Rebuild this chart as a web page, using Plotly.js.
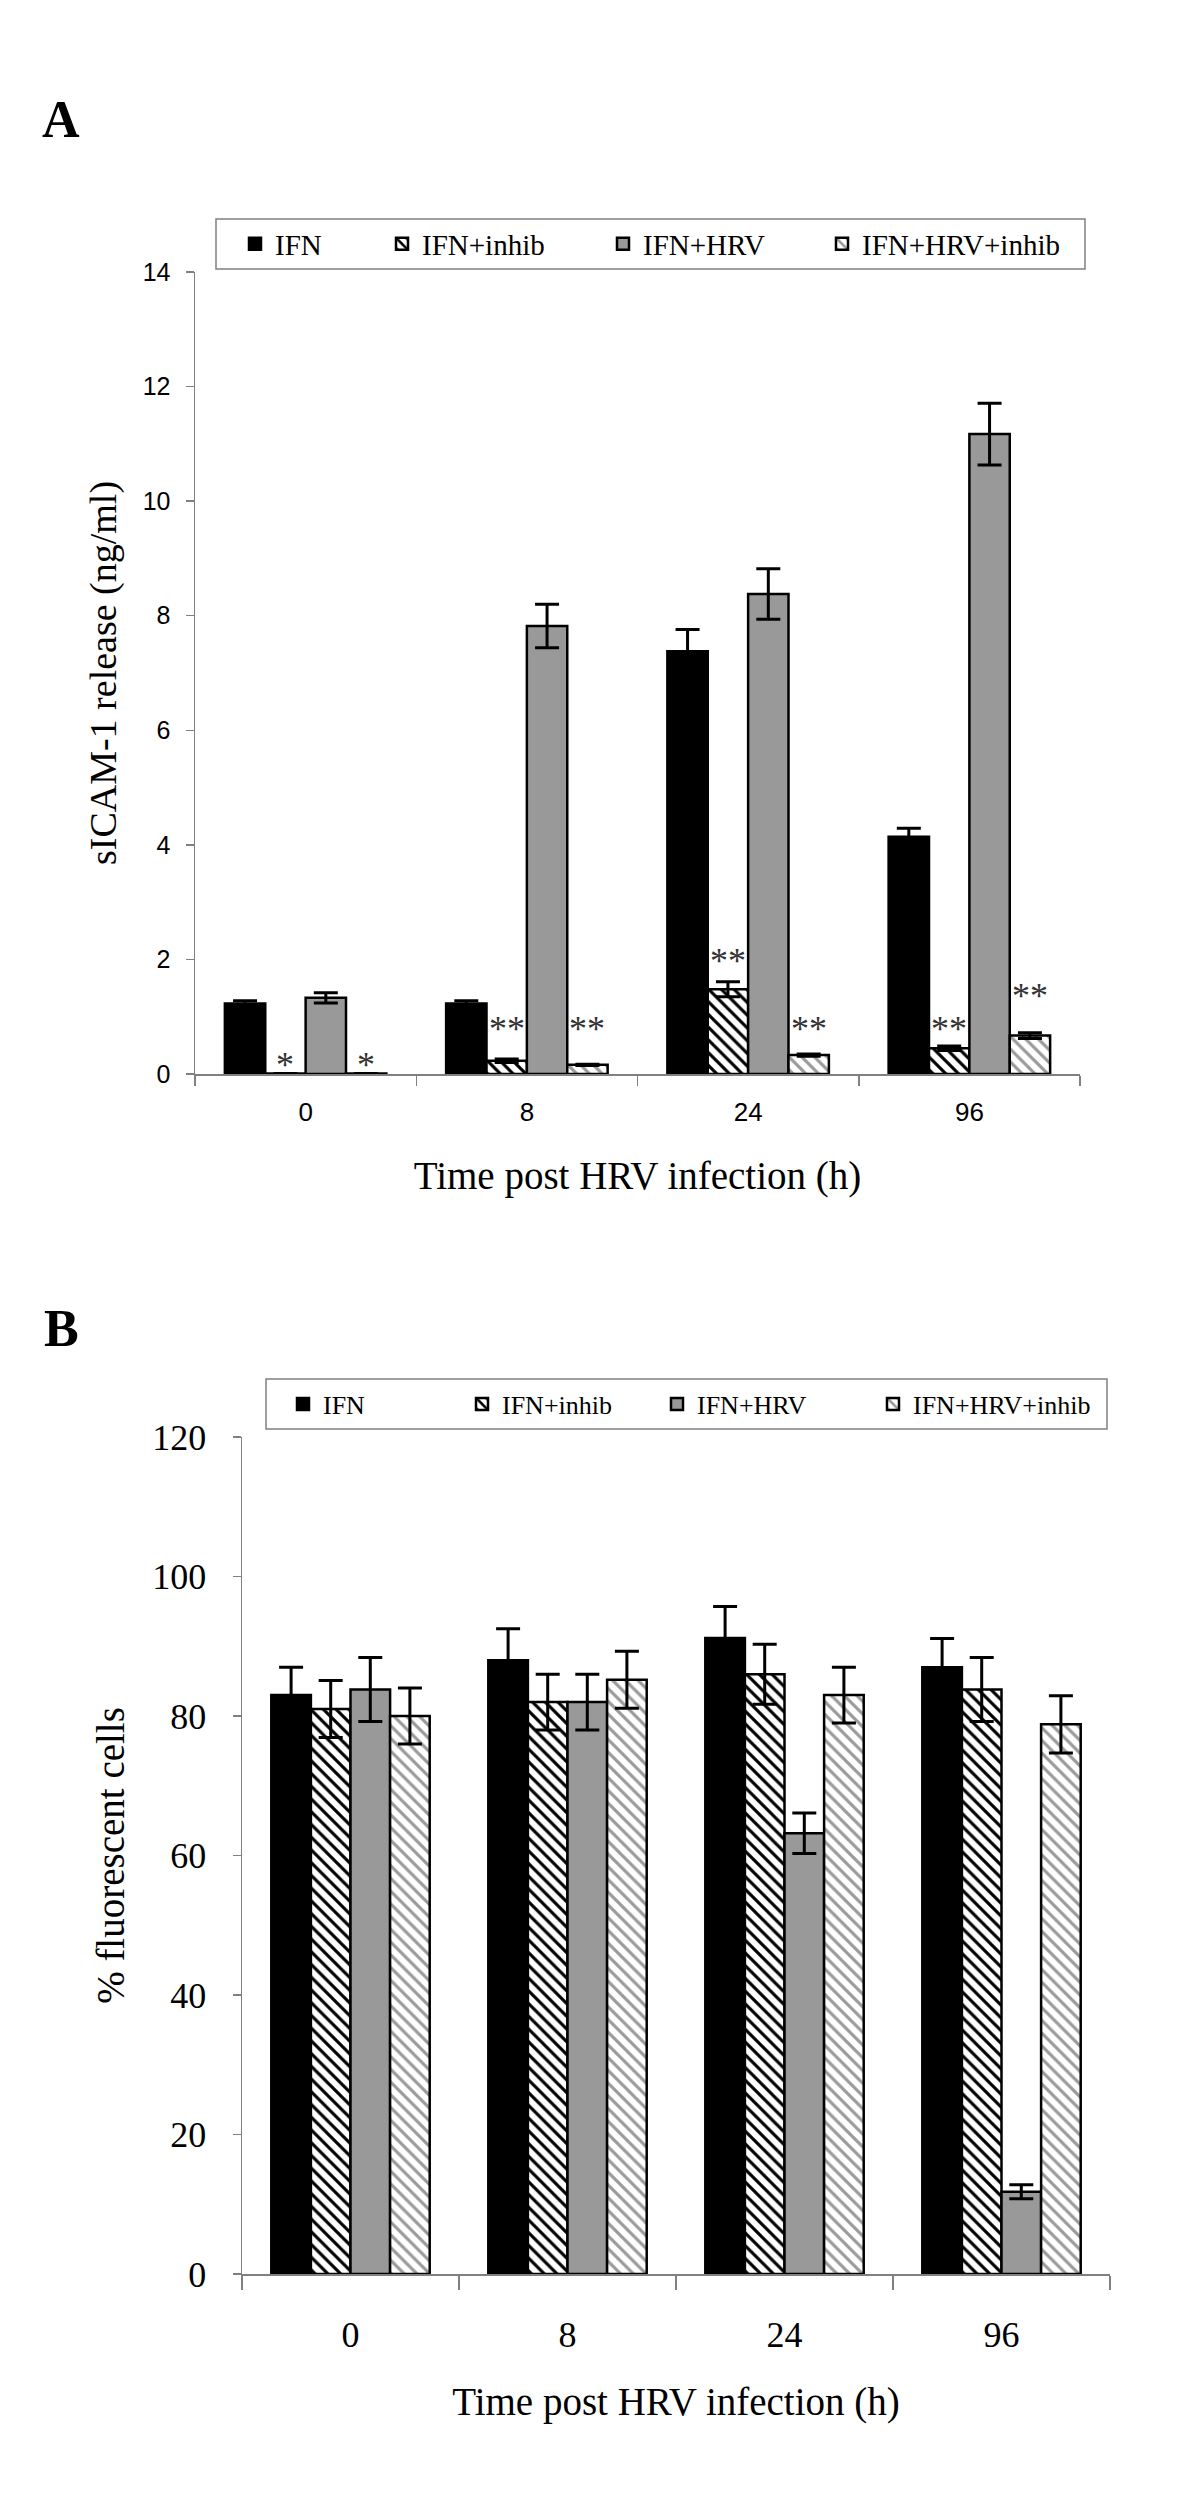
<!DOCTYPE html>
<html><head><meta charset="utf-8">
<script src="https://cdn.plot.ly/plotly-3.0.1.min.js"></script>
<style>body{margin:0;background:#fff}#chart{width:1200px;height:2509px}</style>
</head><body><div id="chart"></div>
<script>
// ---------- data ----------
const categories = ['0', '8', '24', '96'];
const seriesNames = ['IFN', 'IFN+inhib', 'IFN+HRV', 'IFN+HRV+inhib'];

// Panel A: sICAM-1 release (ng/ml)
const aIFN = [1.23, 1.23, 7.38, 4.14];
const aIFNErr = [0.05, 0.05, 0.38, 0.15];
const aInhib = [0.01, 0.23, 1.48, 0.45];
const aInhibErr = [0, 0.03, 0.13, 0.04];
const aHRV = [1.33, 7.82, 8.38, 11.17];
const aHRVErr = [0.09, 0.38, 0.44, 0.54];
const aHRVInhib = [0.01, 0.16, 0.33, 0.67];
const aHRVInhibErr = [0, 0.01, 0.02, 0.05];
const aInhibStars = ['*', '**', '**', '**'];
const aInhibStarY = [0.16, 0.78, 1.98, 0.78];
const aHRVInhibStars = ['*', '**', '**', '**'];
const aHRVInhibStarY = [0.16, 0.78, 0.78, 1.36];

// Panel B: % fluorescent cells
const bIFN = [83, 88, 91.2, 87];
const bIFNErr = [4, 4.5, 4.5, 4.1];
const bInhib = [81, 82, 86, 83.8];
const bInhibErr = [4.1, 4, 4.3, 4.6];
const bHRV = [83.8, 82, 63.2, 11.8];
const bHRVErr = [4.6, 4, 2.9, 1.0];
const bHRVInhib = [80, 85.2, 83, 78.8];
const bHRVInhibErr = [4, 4.1, 4, 4.1];

// ---------- styling ----------
const W = 1200, H = 2509;
const SERIF = '"Liberation Serif", "Times New Roman", Times, serif';
const NARROW = '"Liberation Sans Narrow", "Arial Narrow", "Liberation Sans", Arial, sans-serif';
const AXIS_GRAY = '#808080';
const BARGAP = 0.27;

const PA = {l: 195, r: 1080, t: 272, b: 1074};
const PB = {l: 242, r: 1110, t: 1437, b: 2274};
const fx = p => p / W;
const fy = p => 1 - p / H;

const styles = [
  {color: '#000000'},
  {color: '#ffffff', pattern: {shape: '\\', fgcolor: '#000000', bgcolor: '#ffffff', size: 9, solidity: 0.35}},
  {color: '#999999'},
  {color: '#ffffff', pattern: {shape: '\\', fgcolor: '#9a9a9a', bgcolor: '#ffffff', size: 9, solidity: 0.35}}
];

function bar(vals, errs, k, xa, ya, legendId) {
  const m = {color: styles[k].color, line: {color: '#000', width: 2.5}};
  if (styles[k].pattern) m.pattern = styles[k].pattern;
  return {
    type: 'bar', x: categories, y: vals, name: seriesNames[k],
    xaxis: xa, yaxis: ya, legend: legendId, showlegend: true,
    marker: m,
    error_y: {type: 'data', array: errs, visible: true, color: '#000', thickness: 3, width: 12}
  };
}

const aSeries = [[aIFN, aIFNErr], [aInhib, aInhibErr], [aHRV, aHRVErr], [aHRVInhib, aHRVInhibErr]];
const bSeries = [[bIFN, bIFNErr], [bInhib, bInhibErr], [bHRV, bHRVErr], [bHRVInhib, bHRVInhibErr]];
const legendIdsA = ['legend', 'legend2', 'legend3', 'legend4'];
const legendIdsB = ['legend5', 'legend6', 'legend7', 'legend8'];

const traces = [];
aSeries.forEach((s, k) => traces.push(bar(s[0], s[1], k, 'x', 'y', legendIdsA[k])));
bSeries.forEach((s, k) => traces.push(bar(s[0], s[1], k, 'x2', 'y2', legendIdsB[k])));

// legend text starting positions (pixels) and vertical centres
const legTextA = [275, 422, 643, 862], legYA = 244;
const legTextB = [323, 502, 697, 913], legYB = 1404;

function legendObj(xText, yc, size) {
  return {
    x: fx(xText - 40), xanchor: 'left', y: fy(yc), yanchor: 'middle',
    orientation: 'h', bgcolor: 'rgba(0,0,0,0)', borderwidth: 0,
    font: {family: SERIF, size: size, color: '#000'}
  };
}

// annotations: asterisks
const barW = (1 - BARGAP) / 4;
const barOffset = k => -(1 - BARGAP) / 2 + barW * (k + 0.5);
const starFont = {family: SERIF, size: 36, color: '#333'};
const annotations = [];
categories.forEach((c, i) => {
  annotations.push({xref: 'x', yref: 'y', x: i + barOffset(1), y: aInhibStarY[i], text: aInhibStars[i],
    showarrow: false, xanchor: 'center', yanchor: 'middle', yshift: 0, font: starFont});
  annotations.push({xref: 'x', yref: 'y', x: i + barOffset(3), y: aHRVInhibStarY[i], text: aHRVInhibStars[i],
    showarrow: false, xanchor: 'center', yanchor: 'middle', yshift: 0, font: starFont});
});
annotations.push({xref: 'paper', yref: 'paper', x: fx(61), y: fy(120), text: '<b>A</b>', showarrow: false,
  xanchor: 'center', yanchor: 'middle', font: {family: SERIF, size: 52, color: '#000'}});
annotations.push({xref: 'paper', yref: 'paper', x: fx(61), y: fy(1328), text: '<b>B</b>', showarrow: false,
  xanchor: 'center', yanchor: 'middle', font: {family: SERIF, size: 52, color: '#000'}});

const shapes = [
  {type: 'rect', xref: 'paper', yref: 'paper', x0: fx(216), x1: fx(1085), y0: fy(269), y1: fy(219),
    line: {color: AXIS_GRAY, width: 1.5}, fillcolor: 'rgba(0,0,0,0)'},
  {type: 'rect', xref: 'paper', yref: 'paper', x0: fx(266), x1: fx(1107), y0: fy(1429), y1: fy(1379),
    line: {color: AXIS_GRAY, width: 1.5}, fillcolor: 'rgba(0,0,0,0)'}
];

const layout = {
  width: W, height: H, margin: {l: 0, r: 0, t: 0, b: 0},
  paper_bgcolor: '#fff', plot_bgcolor: '#fff',
  barmode: 'group', bargap: BARGAP, bargroupgap: 0,
  showlegend: true,
  xaxis: {
    domain: [fx(PA.l), fx(PA.r)], anchor: 'y', type: 'category',
    tickson: 'boundaries', ticks: 'outside', ticklen: 10, tickcolor: AXIS_GRAY, tickwidth: 1.5,
    showline: true, linecolor: AXIS_GRAY, linewidth: 1.5, showgrid: false, zeroline: false,
    ticklabelstandoff: 14,
    tickfont: {family: NARROW, size: 26, color: '#000'},
    title: {text: 'Time post HRV infection (h)', font: {family: SERIF, size: 39, color: '#000'}, standoff: 36}
  },
  yaxis: {
    domain: [fy(PA.b), fy(PA.t)], anchor: 'x', range: [0, 14], dtick: 2,
    ticks: 'outside', ticklen: 8, tickcolor: AXIS_GRAY, tickwidth: 1.5,
    showline: true, linecolor: AXIS_GRAY, linewidth: 1.5, showgrid: false, zeroline: false,
    ticklabelstandoff: 10,
    tickfont: {family: NARROW, size: 25, color: '#000'},
    title: {text: 'sICAM-1 release (ng/ml)', font: {family: SERIF, size: 38, color: '#000'}, standoff: 14}
  },
  xaxis2: {
    domain: [fx(PB.l), fx(PB.r)], anchor: 'y2', type: 'category',
    tickson: 'boundaries', ticks: 'outside', ticklen: 14, tickcolor: AXIS_GRAY, tickwidth: 1.5,
    showline: true, linecolor: AXIS_GRAY, linewidth: 1.5, showgrid: false, zeroline: false,
    ticklabelstandoff: 28,
    tickfont: {family: SERIF, size: 36, color: '#000'},
    title: {text: 'Time post HRV infection (h)', font: {family: SERIF, size: 39, color: '#000'}, standoff: 34}
  },
  yaxis2: {
    domain: [fy(PB.b), fy(PB.t)], anchor: 'x2', range: [0, 120], dtick: 20,
    ticks: 'outside', ticklen: 8, tickcolor: AXIS_GRAY, tickwidth: 1.5,
    showline: true, linecolor: AXIS_GRAY, linewidth: 1.5, showgrid: false, zeroline: false,
    ticklabelstandoff: 19,
    tickfont: {family: SERIF, size: 36, color: '#000'},
    title: {text: '% fluorescent cells', font: {family: SERIF, size: 39, color: '#000'}, standoff: 15}
  },
  annotations: annotations,
  shapes: shapes
};
legendIdsA.forEach((id, k) => { layout[id] = legendObj(legTextA[k], legYA, 29); });
legendIdsB.forEach((id, k) => { layout[id] = legendObj(legTextB[k], legYB, 26); });

Plotly.newPlot('chart', traces, layout, {displayModeBar: false, staticPlot: true});
</script>
</body></html>
